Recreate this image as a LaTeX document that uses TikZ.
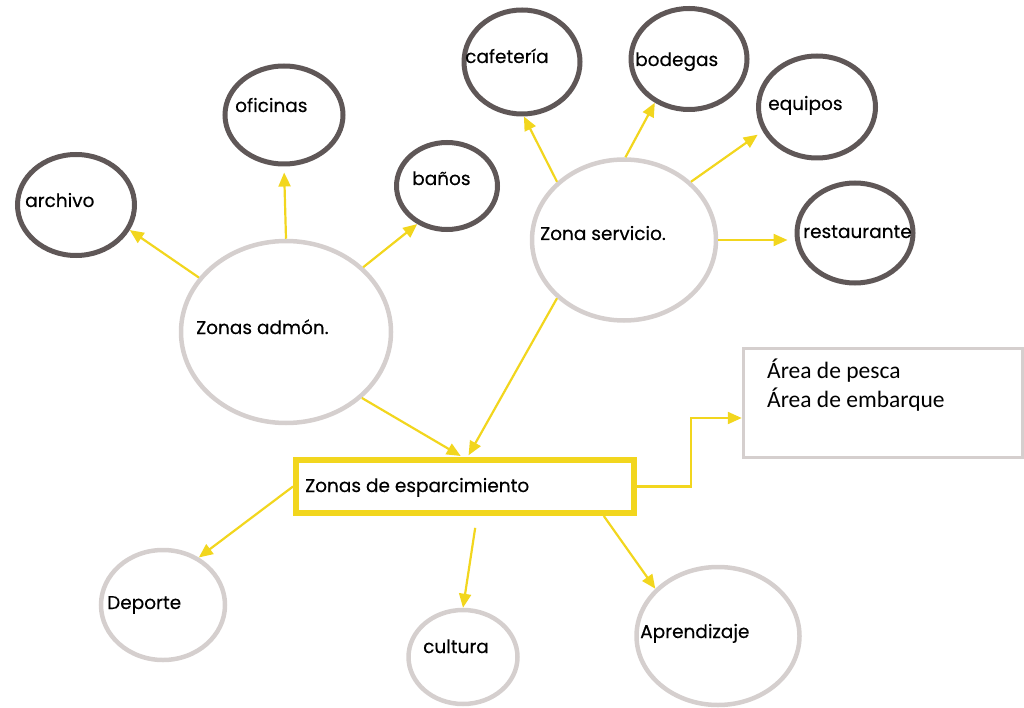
\documentclass[tikz,border=0pt]{standalone}
\usepackage{fontspec}
\setmainfont{Poppins}
\newfontfamily\labfont{Poppins}[FakeBold=0.3]
\newfontfamily\calfont{Carlito}
\usetikzlibrary{arrows.meta,shapes.geometric}
\definecolor{darkring}{HTML}{5F5757}
\definecolor{lightring}{HTML}{D5CFCE}
\definecolor{ylw}{HTML}{F2D61E}
\tikzset{
  darkell/.style={ellipse,draw=darkring,line width=5pt,inner sep=0pt},
  lightell/.style={ellipse,draw=lightring,line width=4.5pt,inner sep=0pt},
  lbl/.style={anchor=base west,inner sep=0pt,font=\labfont\fontsize{18.5}{22}\selectfont},
  conn/.style={draw=ylw,line width=2.2pt,-{Triangle[length=14pt,width=12pt]}},
}
\begin{document}
\begin{tikzpicture}[x=1pt,y=-1pt]
\useasboundingbox (0,0) rectangle (1024,708);
% admin cluster
\node[lightell,minimum width=210pt,minimum height=182pt] (adm) at (286,332) {};
\node[darkell,minimum width=117pt,minimum height=101pt] (arch) at (76,205) {};
\node[darkell,minimum width=118pt,minimum height=98pt] (ofi) at (284,115) {};
\node[darkell,minimum width=101pt,minimum height=87pt] (ban) at (447,186) {};
% service cluster
\node[lightell,minimum width=184pt,minimum height=161pt] (serv) at (624,240) {};
\node[darkell,minimum width=116pt,minimum height=104pt] (caf) at (522,62) {};
\node[darkell,minimum width=116pt,minimum height=101pt] (bod) at (689,59) {};
\node[darkell,minimum width=117pt,minimum height=102pt] (equ) at (817,107) {};
\node[darkell,minimum width=116pt,minimum height=100pt] (res) at (855,233) {};
% central box
\node[draw=ylw,line width=6pt,minimum width=338pt,minimum height=53pt,inner sep=0pt] (esp) at (465,486.5) {};
\node[draw=lightring,line width=3.5pt,minimum width=279pt,minimum height=109pt,inner sep=0pt] (area) at (883,403) {};
% bottom
\node[lightell,minimum width=124pt,minimum height=110pt] (dep) at (163,605) {};
\node[lightell,minimum width=109pt,minimum height=94pt] (cul) at (463,657) {};
\node[lightell,minimum width=163pt,minimum height=138pt] (apr) at (718,636) {};
% labels
\node[lbl] (tarch) at (25,207) {archivo};
\node[lbl] (tofi) at (235,112) {oficinas};
\node[lbl] (tban) at (412,185) {baños};
\node[lbl] (tadm) at (196,334) {Zonas admón.};
\node[lbl] (tserv) at (540,240) {Zona servicio.};
\node[lbl] (tcaf) at (465,63) {cafetería};
\node[lbl] (tbod) at (635,66) {bodegas};
\node[lbl] (tequ) at (768,110) {equipos};
\node[lbl] (tres) at (803,238) {restaurante};
\node[lbl] (tesp) at (305,492) {Zonas de esparcimiento};
\node[lbl] (tdep) at (107,609) {Deporte};
\node[lbl] (tcul) at (423,653) {cultura};
\node[lbl] (tapr) at (640,638) {Aprendizaje};
\node[anchor=base west,inner sep=0pt,font=\calfont\fontsize{23.5}{29}\selectfont,align=left] (tarea) at (767,407) {Área de pesca\\Área de embarque};
% connectors
\draw[conn] (adm.148) -- (arch.-25);
\draw[conn,shorten >=6pt] (adm.90) -- (ofi.-90);
\draw[conn] (adm.40) -- (ban.-128);
\draw[conn,shorten >=2pt] (adm.-41) -- (esp.95);
\draw[conn] (serv.139) -- (caf.-88);
\draw[conn] (serv.89) -- (bod.-128);
\draw[conn,shorten >=6pt] (serv.41) -- (equ.-156);
\draw[conn,shorten >=7pt] (serv.0) -- (serv.0 -| res.west);
\draw[conn,shorten >=2pt] (serv.-139) -- (esp.85);
\draw[conn] (esp.east) -- ++(54,0) |- ([yshift=-15pt]area.west);
\draw[conn] (esp.west) -- (dep.53);
\draw[conn,shorten <=12pt] ([xshift=12pt]esp.south) -- (cul.north);
\draw[conn] (esp.-12.7) -- (apr.143.6);
\end{tikzpicture}
\end{document}
